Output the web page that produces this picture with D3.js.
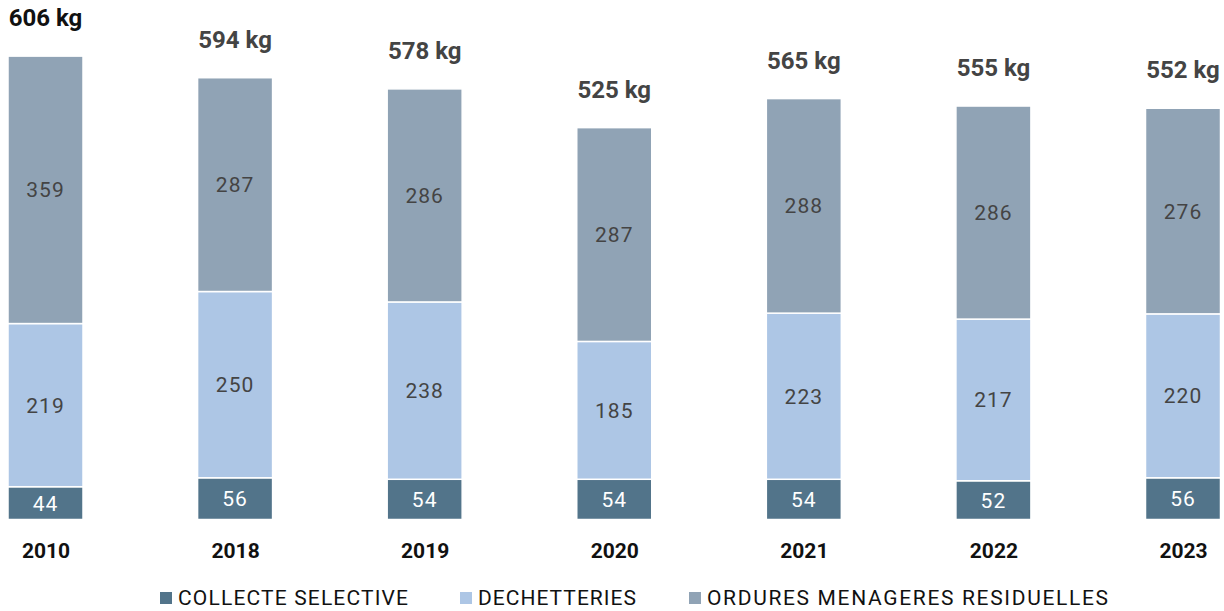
<!DOCTYPE html>
<html><head><meta charset="utf-8">
<script src="https://cdn.jsdelivr.net/npm/d3@7"></script>
<style>
body{margin:0;background:#fff;}
svg{display:block;font-family:Roboto,"DejaVu Sans",sans-serif;}
</style></head>
<body><svg id="c" width="1224" height="611"></svg>
<script>
const years = ["2010","2018","2019","2020","2021","2022","2023"];
const collecte = [44,56,54,54,54,52,56];
const dechetteries = [219,250,238,185,223,217,220];
const ordures = [359,287,286,287,288,286,276];
const totals = ["606 kg","594 kg","578 kg","525 kg","565 kg","555 kg","552 kg"];
const seriesNames = ["COLLECTE SELECTIVE","DECHETTERIES","ORDURES MENAGERES RESIDUELLES"];
const colors = ["#52748a","#adc6e5","#90a3b5"];

const svg = d3.select("#c");
const rows = years.map((y,i)=>({year:y, c:collecte[i], d:dechetteries[i], o:ordures[i], total:totals[i]}));
const stack = d3.stack().keys(["c","d","o"])(rows);

const x = d3.scalePoint().domain(years).range([45.5,1183]);
const y = d3.scaleLinear().domain([0,700]).range([519.5,-2]);
const bw = 75;

const g = svg.append("g");
stack.forEach((s,si)=>{
  g.selectAll(null).data(s).enter().append("rect")
    .attr("x",d=>x(d.data.year)-bw/2)
    .attr("y",d=>y(d[1]))
    .attr("width",bw)
    .attr("height",d=>y(d[0])-y(d[1]))
    .attr("fill",colors[si])
    .attr("stroke","#fff").attr("stroke-width",1.5);
  g.selectAll(null).data(s).enter().append("text")
    .attr("x",d=>x(d.data.year))
    .attr("y",d=>(y(d[0])+y(d[1]))/2)
    .attr("dy","0.36em")
    .attr("text-anchor","middle")
    .attr("font-size",21)
    .attr("letter-spacing","1px")
    .attr("fill",si===0?"#fff":"#444")
    .text(d=>d[1]-d[0]);
});

// totals
g.selectAll(null).data(rows).enter().append("text")
  .attr("x",d=>x(d.year))
  .attr("y",d=>y(d.c+d.d+d.o)-30)
  .attr("text-anchor","middle")
  .attr("font-size",24).attr("font-weight","bold")
  .attr("fill",(d,i)=>i===0?"#111":"#444")
  .text(d=>d.total);

// x axis labels
const xAxis = d3.axisBottom(x).tickSize(0).tickPadding(0);
const ax = svg.append("g").attr("transform","translate(0,543)").call(xAxis);
ax.select(".domain").remove();
ax.selectAll("text").attr("font-size",21).attr("font-weight","bold").attr("fill","#111")
  .attr("font-family","Roboto").attr("dy","0.71em").attr("y",0);

// legend
const legX = [160,460,689];
const legW = [230,158,401];
const leg = svg.append("g");
seriesNames.forEach((n,i)=>{
  leg.append("rect").attr("x",legX[i]).attr("y",592).attr("width",12).attr("height",12).attr("fill",colors[i]);
  leg.append("text").attr("x",legX[i]+18).attr("y",605).attr("font-size",21).attr("fill","#111")
    .attr("textLength",legW[i]).attr("lengthAdjust","spacing").text(n);
});
</script></body></html>
